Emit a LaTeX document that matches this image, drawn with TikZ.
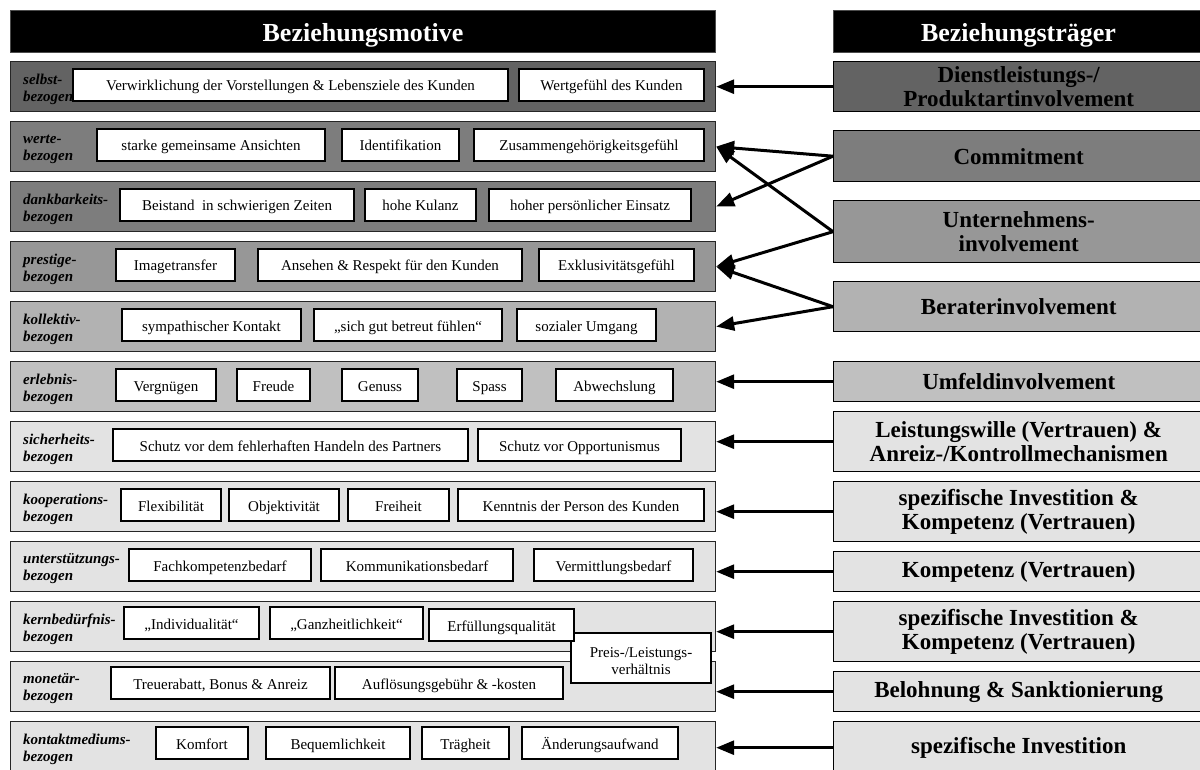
\documentclass[tikz,border=0pt]{standalone}
\usepackage{fontspec}
\setmainfont{Liberation Serif}
\usetikzlibrary{arrows.meta}

\definecolor{shadeA}{HTML}{636363}
\definecolor{shadeB}{HTML}{7D7D7D}
\definecolor{shadeC}{HTML}{979797}
\definecolor{shadeD}{HTML}{B2B2B2}
\definecolor{shadeE}{HTML}{C0C0C0}
\definecolor{shadeF}{HTML}{E3E3E3}

% inner white box: name, left x, right x, centre y, text
\newcommand{\inb}[5]{\node[inbox, minimum width={(#3-#2)*1pt}] (#1) at ({(#2+#3)/2},#4) {#5};}

\begin{document}
\begin{tikzpicture}[x=1pt,y=-1pt,
  head/.style={fill=black, draw=black!70, line width=1pt, text=white,
    font=\fontsize{26}{28}\selectfont\bfseries, inner sep=0pt,
    text height=24pt, text depth=3pt,
    anchor=north west, minimum height=42pt},
  rowbox/.style={draw=black!85, line width=1.2pt, anchor=north west,
    minimum width=705pt, minimum height=50pt, inner sep=0pt},
  lbl/.style={anchor=west, align=left, inner sep=0pt,
    font=\fontsize{15}{17}\selectfont\bfseries\itshape},
  inbox/.style={draw=black, fill=white, line width=1.4pt, minimum height=32pt,
    inner sep=0pt, text height=15pt, text depth=3pt,
    font=\fontsize{15}{17}\selectfont},
  carrier/.style={draw=black, line width=1.4pt, anchor=north west,
    minimum width=370pt, inner sep=0pt, align=center,
    font=\fontsize{23}{24}\selectfont\bfseries},
  link/.style={line width=3pt, -{Triangle[length=18pt,width=14pt]}}
]
\useasboundingbox (0,0) rectangle (1200,770);

% headers
\node[head, minimum width=705pt] (hl) at (10,10) {Beziehungsmotive};
\node[head, minimum width=370pt] (hr) at (833,10) {Beziehungsträger};

% motive rows
\node[rowbox, fill=shadeA] (r1)  at (10,61)  {};
\node[rowbox, fill=shadeB] (r2)  at (10,121) {};
\node[rowbox, fill=shadeB] (r3)  at (10,181) {};
\node[rowbox, fill=shadeC] (r4)  at (10,241) {};
\node[rowbox, fill=shadeD] (r5)  at (10,301) {};
\node[rowbox, fill=shadeE] (r6)  at (10,361) {};
\node[rowbox, fill=shadeF] (r7)  at (10,421) {};
\node[rowbox, fill=shadeF] (r8)  at (10,481) {};
\node[rowbox, fill=shadeF] (r9)  at (10,541) {};
\node[rowbox, fill=shadeF] (r10) at (10,601) {};
\node[rowbox, fill=shadeF] (r11) at (10,661) {};
\node[rowbox, fill=shadeF] (r12) at (10,721) {};

% row labels
\node[lbl] (l1)  at (23,89)  {selbst-\\bezogen};
\node[lbl] (l2)  at (23,149) {werte-\\bezogen};
\node[lbl] (l3)  at (23,209) {dankbarkeits-\\bezogen};
\node[lbl] (l4)  at (23,269) {prestige-\\bezogen};
\node[lbl] (l5)  at (23,329) {kollektiv-\\bezogen};
\node[lbl] (l6)  at (23,389) {erlebnis-\\bezogen};
\node[lbl] (l7)  at (23,449) {sicherheits-\\bezogen};
\node[lbl] (l8)  at (23,509) {kooperations-\\bezogen};
\node[lbl] (l9)  at (23,569) {unterstützungs-\\bezogen};
\node[lbl] (l10) at (23,629) {kernbedürfnis-\\bezogen};
\node[lbl] (l11) at (23,689) {monetär-\\bezogen};
\node[lbl] (l12) at (23,749) {kontaktmediums-\\bezogen};

% motive items
\inb{a1}{73}{508}{85}{Verwirklichung der Vorstellungen \& Lebensziele des Kunden}
\inb{a2}{519}{704}{85}{Wertgefühl des Kunden}

\inb{b1}{97}{325}{145}{starke gemeinsame Ansichten}
\inb{b2}{342}{459}{145}{Identifikation}
\inb{b3}{474}{704}{145}{Zusammengehörigkeitsgefühl}

\inb{c1}{120}{354}{205}{Beistand\ \ in schwierigen Zeiten}
\inb{c2}{365}{476}{205}{hohe Kulanz}
\inb{c3}{489}{691}{205}{hoher persönlicher Einsatz}

\inb{d1}{116}{235}{265}{Imagetransfer}
\inb{d2}{258}{522}{265}{Ansehen \& Respekt für den Kunden}
\inb{d3}{539}{694}{265}{Exklusivitätsgefühl}

\inb{e1}{122}{301}{325}{sympathischer Kontakt}
\inb{e2}{314}{502}{325}{„sich gut betreut fühlen“}
\inb{e3}{517}{656}{325}{sozialer Umgang}

\inb{f1}{116}{216}{385}{Vergnügen}
\inb{f2}{237}{310}{385}{Freude}
\inb{f3}{342}{418}{385}{Genuss}
\inb{f4}{457}{522}{385}{Spass}
\inb{f5}{556}{673}{385}{Abwechslung}

\inb{g1}{113}{468}{445}{Schutz vor dem fehlerhaften Handeln des Partners}
\inb{g2}{478}{681}{445}{Schutz vor Opportunismus}

\inb{h1}{121}{221}{505}{Flexibilität}
\inb{h2}{229}{339}{505}{Objektivität}
\inb{h3}{348}{449}{505}{Freiheit}
\inb{h4}{458}{704}{505}{Kenntnis der Person des Kunden}

\inb{i1}{129}{311}{565}{Fachkompetenzbedarf}
\inb{i2}{321}{513}{565}{Kommunikationsbedarf}
\inb{i3}{534}{693}{565}{Vermittlungsbedarf}

\inb{j1}{124}{259}{623}{„Individualität“}
\inb{j2}{270}{423}{623}{„Ganzheitlichkeit“}

\inb{k1}{111}{330}{683}{Treuerabatt, Bonus \& Anreiz}
\inb{k2}{335}{563}{683}{Auflösungsgebühr \& -kosten}

\inb{m1}{156}{248}{743}{Komfort}
\inb{m2}{266}{410}{743}{Bequemlichkeit}
\inb{m3}{422}{509}{743}{Trägheit}
\inb{m4}{522}{678}{743}{Änderungsaufwand}

% box spanning the kernbedürfnis and monetär rows
\node[draw=black, fill=white, line width=1.4pt, inner sep=0pt,
  minimum width=140pt, minimum height=50pt] (p) at (641,658) {};
\node[inner sep=0pt, align=center, font=\fontsize{15}{17}\selectfont]
  (pt) at (641,661) {Preis-/Leistungs-\\verhältnis};
\inb{j3}{429}{574}{625}{Erfüllungsqualität}

% carrier boxes
\node[carrier, fill=shadeA, minimum height=50pt] (t1)  at (833,61)  {Dienstleistungs-/\\Produktartinvolvement};
\node[carrier, fill=shadeB, minimum height=51pt] (t2)  at (833,130) {Commitment};
\node[carrier, fill=shadeC, minimum height=62pt] (t3)  at (833,200) {Unternehmens-\\involvement};
\node[carrier, fill=shadeD, minimum height=50pt] (t4)  at (833,281) {Beraterinvolvement};
\node[carrier, fill=shadeE, minimum height=40pt] (t5)  at (833,361) {Umfeldinvolvement};
\node[carrier, fill=shadeF, minimum height=60pt] (t6)  at (833,411) {Leistungswille (Vertrauen) \&\\Anreiz-/Kontrollmechanismen};
\node[carrier, fill=shadeF, minimum height=60pt] (t7)  at (833,481) {spezifische Investition \&\\Kompetenz (Vertrauen)};
\node[carrier, fill=shadeF, minimum height=40pt] (t8)  at (833,551) {Kompetenz (Vertrauen)};
\node[carrier, fill=shadeF, minimum height=60pt] (t9)  at (833,601) {spezifische Investition \&\\Kompetenz (Vertrauen)};
\node[carrier, fill=shadeF, minimum height=40pt] (t10) at (833,671) {Belohnung \& Sanktionierung};
\node[carrier, fill=shadeF, minimum height=52pt] (t11) at (833,721) {spezifische Investition};

% connections
\draw[link] (t1.west) -- (t1.west -| r1.east);
\draw[link] (t2.west) -- (r2.east);
\draw[link] (t2.west) -- (r3.east);
\draw[link] (t3.west) -- (r2.east);
\draw[link] (t3.west) -- (r4.east);
\draw[link] (t4.west) -- (r4.east);
\draw[link] (t4.west) -- (r5.east);
\draw[link] (t5.west) -- (t5.west -| r6.east);
\draw[link] (t6.west) -- (t6.west -| r7.east);
\draw[link] (t7.west) -- (t7.west -| r8.east);
\draw[link] (t8.west) -- (t8.west -| r9.east);
\draw[link] (t9.west) -- (t9.west -| r10.east);
\draw[link] (t10.west) -- (t10.west -| r11.east);
\draw[link] (t11.west) -- (t11.west -| r12.east);
\end{tikzpicture}
\end{document}
